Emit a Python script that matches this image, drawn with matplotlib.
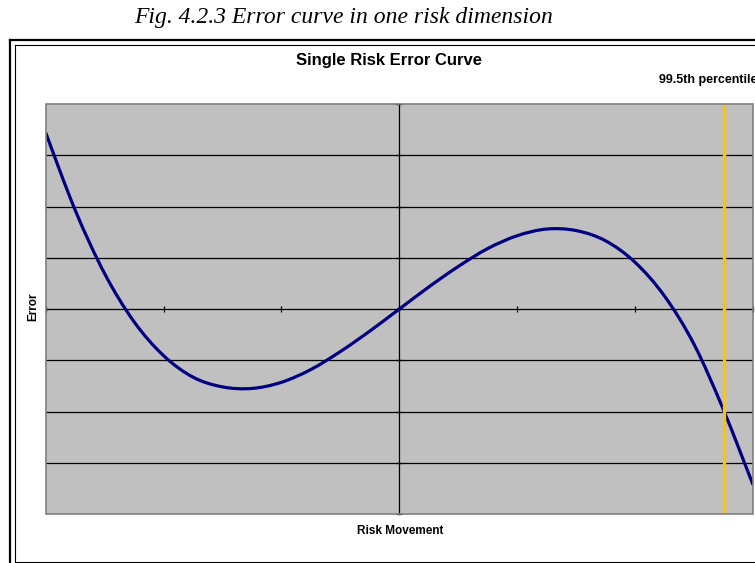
import matplotlib
matplotlib.use("Agg")
import matplotlib.pyplot as plt
from matplotlib.lines import Line2D
from matplotlib.patches import Rectangle, PathPatch
from matplotlib.path import Path

# ---- data ----
risk_movement = [-3.0, -2.75, -2.5, -2.25, -2.0, -1.75, -1.5, -1.25, -1.0, -0.75, -0.5, -0.25,
                 0.0, 0.25, 0.5, 0.75, 1.0, 1.25, 1.5, 1.75, 2.0, 2.25, 2.5, 2.75, 3.0]
error_values = [3.44, 1.93, 0.69, -0.25, -0.91, -1.33, -1.52, -1.55, -1.43, -1.18, -0.83, -0.43,
                0.00, 0.43, 0.83, 1.18, 1.43, 1.56, 1.53, 1.33, 0.91, 0.25, -0.69, -1.97, -3.43]
percentile_x = 2.75
x_ticks = [-3, -2, -1, 0, 1, 2, 3]
y_gridlines = [-3, -2, -1, 1, 2, 3]
y_ticks = [-4, -3, -2, -1, 0, 1, 2, 3, 4]

caption = "Fig. 4.2.3 Error curve in one risk dimension"
title = "Single Risk Error Curve"
percentile_label = "99.5th percentile"
xlabel = "Risk Movement"
ylabel = "Error"

W, H = 755, 563
fig = plt.figure(figsize=(W / 100, H / 100), dpi=100)
fig.patch.set_facecolor("white")


def fx(px):
    return px / W


def fy(py):
    return 1 - py / H


def smooth_path(xs, ys):
    """Catmull-Rom style smoothed line (like a spreadsheet 'smoothed line')."""
    n = len(xs)
    verts = [(xs[0], ys[0])]
    codes = [Path.MOVETO]
    for i in range(n - 1):
        x0, y0 = (xs[i - 1], ys[i - 1]) if i > 0 else (xs[i], ys[i])
        x1, y1 = xs[i], ys[i]
        x2, y2 = xs[i + 1], ys[i + 1]
        x3, y3 = (xs[i + 2], ys[i + 2]) if i + 2 < n else (xs[i + 1], ys[i + 1])
        c1 = (x1 + (x2 - x0) / 6.0, y1 + (y2 - y0) / 6.0)
        c2 = (x2 - (x3 - x1) / 6.0, y2 - (y3 - y1) / 6.0)
        verts += [c1, c2, (x2, y2)]
        codes += [Path.CURVE4, Path.CURVE4, Path.CURVE4]
    return Path(verts, codes)


# plot area
ax = fig.add_axes([fx(45.7), fy(514), fx(753) - fx(45.7), fy(104) - fy(514)])
ax.set_facecolor("#C0C0C0")
ax.set_xlim(-3, 3)
ax.set_ylim(-4, 4)

for g in y_gridlines:
    ax.axhline(g, color="black", lw=0.9, zorder=1)

ax.spines["top"].set_visible(False)
ax.spines["right"].set_visible(False)
ax.spines["bottom"].set_position(("data", 0))
ax.spines["left"].set_position(("data", 0))
for s in ("bottom", "left"):
    ax.spines[s].set_color("black")
    ax.spines[s].set_linewidth(0.9)
    ax.spines[s].set_zorder(2)
ax.set_xticks(x_ticks)
ax.set_yticks(y_ticks)
ax.tick_params(axis="both", direction="inout", length=5, width=0.9, color="black",
               labelbottom=False, labelleft=False)

border = Rectangle((0, 0), 1, 1, transform=ax.transAxes, fill=False,
                   edgecolor="#808080", lw=1.2, clip_on=False, zorder=5)
ax.add_patch(border)

curve = PathPatch(smooth_path(risk_movement, error_values), fill=False,
                  edgecolor="#000080", lw=2.3, zorder=3, transform=ax.transData)
ax.add_patch(curve)
ax.axvline(percentile_x, color="#FFC400", lw=2.4, zorder=4)

# chart borders (double line)
fig.add_artist(Line2D([fx(9.5), fx(9.5)], [fy(39.6), 0], transform=fig.transFigure,
                      color="black", lw=1.6))
fig.add_artist(Line2D([fx(9.5), 1.0], [fy(39.6), fy(39.6)], transform=fig.transFigure,
                      color="black", lw=1.6))
fig.add_artist(Line2D([fx(14.7), fx(14.7)], [fy(45), fy(562)], transform=fig.transFigure,
                      color="black", lw=0.8))
fig.add_artist(Line2D([fx(14.7), 1.0], [fy(45), fy(45)], transform=fig.transFigure,
                      color="black", lw=0.8))
fig.add_artist(Line2D([fx(14.7), 1.0], [fy(562), fy(562)], transform=fig.transFigure,
                      color="black", lw=0.8))

# texts
fig.text(fx(344), fy(18), caption, ha="center", va="center",
         fontsize=17, fontstyle="italic", family="Liberation Serif")
fig.text(fx(389), fy(60), title, ha="center", va="center",
         fontsize=12, fontweight="bold", family="Liberation Sans")
fig.text(fx(659), fy(80), percentile_label, ha="left", va="center",
         fontsize=9, fontweight="bold", family="Liberation Sans")
fig.text(fx(400), fy(531), xlabel, ha="center", va="center",
         fontsize=8.5, fontweight="bold", family="Liberation Sans")
fig.text(fx(33), fy(307), ylabel, ha="center", va="center", rotation=90,
         fontsize=8.5, fontweight="bold", family="Liberation Sans")

fig.savefig("out.png", dpi=100)
